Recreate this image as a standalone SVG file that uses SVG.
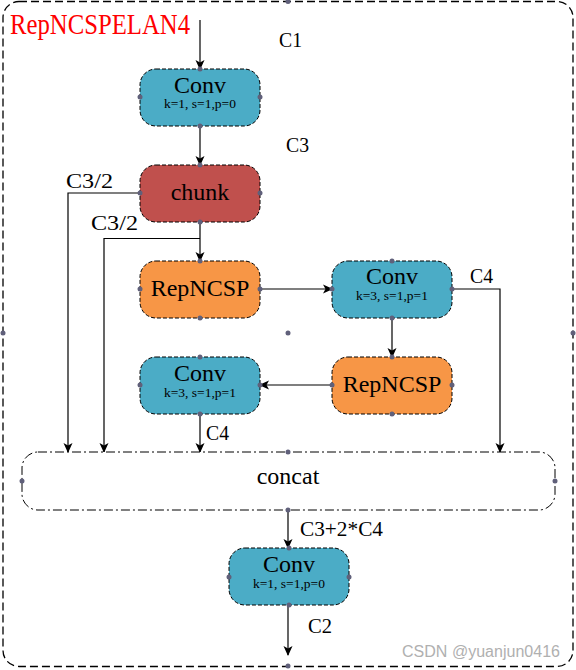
<svg xmlns="http://www.w3.org/2000/svg" width="576" height="670" viewBox="0 0 576 670" font-family="'Liberation Serif', 'Times New Roman', serif">
<defs>
<marker id="ah" viewBox="0 0 10 10" refX="9" refY="5" markerWidth="10" markerHeight="10" markerUnits="userSpaceOnUse" orient="auto">
<path d="M0,0.5 L10,5 L0,9.5 L2.5,5 z" fill="#000"/>
</marker>
<style>
.node{stroke:#000;stroke-width:1;stroke-dasharray:4 2}
.conv{fill:#4BACC6}
.chunk{fill:#C0504D}
.rep{fill:#F79646}
.t{fill:#000;text-anchor:middle}
.big{font-size:24px}
.small{font-size:13.5px}
.lbl{font-size:20px;fill:#000}
.c{fill:none;stroke:#000;stroke-width:1.2}
.dot{fill:#60607a}
</style>
</defs>
<rect x="0" y="0" width="576" height="670" fill="#fff"/>
<g id="container">
<rect x="3" y="1.5" width="570" height="665" rx="16" fill="none" stroke="#000" stroke-width="1.3" stroke-dasharray="8 4"/>
<circle class="dot" cx="288" cy="1.5" r="2.5"/>
<circle class="dot" cx="3" cy="333" r="2.5"/>
<circle class="dot" cx="573" cy="333" r="2.5"/>
<circle class="dot" cx="288" cy="666" r="2.5"/>
<circle class="dot" cx="288" cy="333" r="2.5"/>
<text x="10" y="34" font-family="'Liberation Serif', serif" font-size="30" fill="#FF0000" textLength="180" lengthAdjust="spacingAndGlyphs">RepNCSPELAN4</text>
</g>
<g id="connectors">
<line class="c" x1="200" y1="20" x2="200" y2="69" marker-end="url(#ah)"/>
<line class="c" x1="200" y1="126" x2="200" y2="165" marker-end="url(#ah)"/>
<polyline class="c" points="140,193 68,193 68,452" marker-end="url(#ah)"/>
<line class="c" x1="200" y1="222" x2="200" y2="261" marker-end="url(#ah)"/>
<polyline class="c" points="200,238.5 104,238.5 104,452" marker-end="url(#ah)"/>
<line class="c" x1="260" y1="289" x2="332" y2="289" marker-end="url(#ah)"/>
<polyline class="c" points="452,289 500,289 500,452" marker-end="url(#ah)"/>
<line class="c" x1="392" y1="318" x2="392" y2="357" marker-end="url(#ah)"/>
<line class="c" x1="332" y1="385" x2="260" y2="385" marker-end="url(#ah)"/>
<line class="c" x1="200" y1="414" x2="200" y2="452" marker-end="url(#ah)"/>
<line class="c" x1="288" y1="510" x2="288" y2="548" marker-end="url(#ah)"/>
<line class="c" x1="288" y1="605" x2="288" y2="655" marker-end="url(#ah)"/>
<g font-family="'Liberation Serif', serif">
<text class="lbl" x="279" y="47" textLength="23" lengthAdjust="spacingAndGlyphs">C1</text>
<text class="lbl" x="286" y="152" textLength="23" lengthAdjust="spacingAndGlyphs">C3</text>
<text class="lbl" x="66" y="188" textLength="47" lengthAdjust="spacingAndGlyphs">C3/2</text>
<text class="lbl" x="91" y="230" textLength="47" lengthAdjust="spacingAndGlyphs">C3/2</text>
<text class="lbl" x="470" y="283" textLength="23" lengthAdjust="spacingAndGlyphs">C4</text>
<text class="lbl" x="206" y="440" textLength="23" lengthAdjust="spacingAndGlyphs">C4</text>
<text class="lbl" x="300" y="536" textLength="83" lengthAdjust="spacingAndGlyphs">C3+2*C4</text>
<text class="lbl" x="308" y="633" textLength="24" lengthAdjust="spacingAndGlyphs">C2</text>
</g>
</g>
<g id="conv1" font-family="'Liberation Serif', serif">
<rect class="node conv" x="140" y="69" width="120" height="57" rx="16"/>
<text class="t big" x="200" y="93">Conv</text>
<text class="t small" x="200" y="108">k=1, s=1,p=0</text>
<circle class="dot" cx="200" cy="69" r="2.5"/><circle class="dot" cx="140" cy="97" r="2.5"/><circle class="dot" cx="260" cy="97" r="2.5"/><circle class="dot" cx="200" cy="126" r="2.5"/>
</g>
<g id="chunk" font-family="'Liberation Serif', serif">
<rect class="node chunk" x="140" y="165" width="120" height="57" rx="16"/>
<text class="t big" x="200" y="200">chunk</text>
<circle class="dot" cx="200" cy="165" r="2.5"/><circle class="dot" cx="140" cy="193" r="2.5"/><circle class="dot" cx="260" cy="193" r="2.5"/><circle class="dot" cx="200" cy="222" r="2.5"/>
</g>
<g id="repncsp1" font-family="'Liberation Serif', serif">
<rect class="node rep" x="140" y="261" width="120" height="57" rx="16"/>
<text class="t big" x="200" y="296">RepNCSP</text>
<circle class="dot" cx="200" cy="261" r="2.5"/><circle class="dot" cx="140" cy="289" r="2.5"/><circle class="dot" cx="260" cy="289" r="2.5"/><circle class="dot" cx="200" cy="318" r="2.5"/>
</g>
<g id="conv2" font-family="'Liberation Serif', serif">
<rect class="node conv" x="332" y="261" width="120" height="57" rx="16"/>
<text class="t big" x="392" y="284">Conv</text>
<text class="t small" x="392" y="300">k=3, s=1,p=1</text>
<circle class="dot" cx="392" cy="261" r="2.5"/><circle class="dot" cx="332" cy="289" r="2.5"/><circle class="dot" cx="452" cy="289" r="2.5"/><circle class="dot" cx="392" cy="318" r="2.5"/>
</g>
<g id="repncsp2" font-family="'Liberation Serif', serif">
<rect class="node rep" x="332" y="357" width="120" height="57" rx="16"/>
<text class="t big" x="392" y="392">RepNCSP</text>
<circle class="dot" cx="392" cy="357" r="2.5"/><circle class="dot" cx="332" cy="385" r="2.5"/><circle class="dot" cx="452" cy="385" r="2.5"/><circle class="dot" cx="392" cy="414" r="2.5"/>
</g>
<g id="conv3" font-family="'Liberation Serif', serif">
<rect class="node conv" x="140" y="357" width="120" height="57" rx="16"/>
<text class="t big" x="200" y="381">Conv</text>
<text class="t small" x="200" y="397">k=3, s=1,p=1</text>
<circle class="dot" cx="200" cy="357" r="2.5"/><circle class="dot" cx="140" cy="385" r="2.5"/><circle class="dot" cx="260" cy="385" r="2.5"/><circle class="dot" cx="200" cy="414" r="2.5"/>
</g>
<g id="concat" font-family="'Liberation Serif', serif">
<rect x="22" y="452" width="533" height="58" rx="16" fill="#fff" stroke="#000" stroke-width="1" stroke-dasharray="9 3 2 3"/>
<text class="t big" x="288" y="484">concat</text>
<circle class="dot" cx="288" cy="452" r="2.5"/><circle class="dot" cx="22" cy="481" r="2.5"/><circle class="dot" cx="555" cy="481" r="2.5"/><circle class="dot" cx="288" cy="510" r="2.5"/>
</g>
<g id="conv4" font-family="'Liberation Serif', serif">
<rect class="node conv" x="229" y="548" width="120" height="57" rx="16"/>
<text class="t big" x="289" y="572">Conv</text>
<text class="t small" x="289" y="588">k=1, s=1,p=0</text>
<circle class="dot" cx="289" cy="548" r="2.5"/><circle class="dot" cx="229" cy="577" r="2.5"/><circle class="dot" cx="349" cy="577" r="2.5"/><circle class="dot" cx="289" cy="605" r="2.5"/>
</g>
<text x="402" y="657" font-family="'Liberation Sans', sans-serif" font-size="16" fill="#b0b0b0" textLength="158" lengthAdjust="spacingAndGlyphs">CSDN @yuanjun0416</text>
</svg>
